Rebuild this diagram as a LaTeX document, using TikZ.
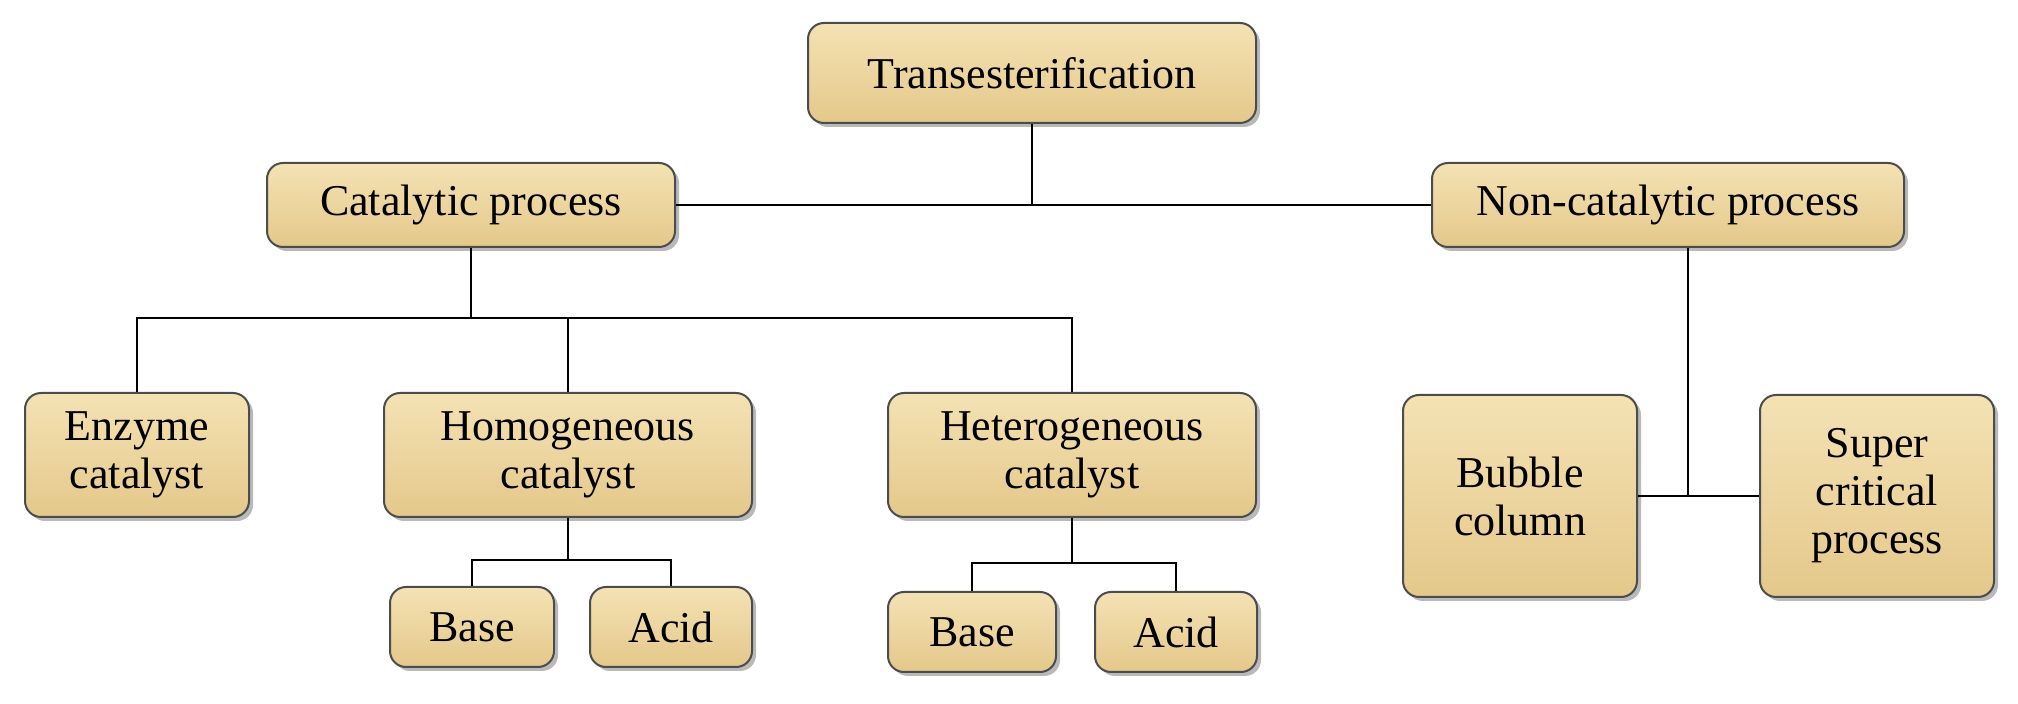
\documentclass[tikz,border=0pt]{standalone}
\usepackage{fontspec}
\setmainfont{Liberation Serif}
\usetikzlibrary{shadows}
\definecolor{parch}{RGB}{228,200,138}
\definecolor{parchlight}{RGB}{244,226,180}
\tikzset{
  box/.style={draw=black!70, line width=1pt, rounded corners=8pt, inner sep=2pt,
    top color=parchlight, bottom color=parch, align=center,
    font=\fontsize{22}{24}\selectfont,
    drop shadow={shadow xshift=2pt, shadow yshift=-2pt, fill=black!55}},
  conn/.style={line width=1.2pt, black}
}
\begin{document}
\begin{tikzpicture}[x=0.5pt,y=-0.5pt]
\useasboundingbox (0,0) rectangle (2018,704);
\node[box, minimum width=224pt, minimum height=50pt] (tr) at (1032,73) {Transesterification};
\node[box, minimum width=204pt, minimum height=42pt] (cat) at (471,205) {Catalytic process};
\node[box, minimum width=236pt, minimum height=42pt] (non) at (1668,205) {Non-catalytic process};
\node[box, minimum width=112pt, minimum height=62pt] (enz) at (137,455) {Enzyme\\catalyst};
\node[box, minimum width=184pt, minimum height=62pt] (hom) at (568,455) {Homogeneous\\catalyst};
\node[box, minimum width=184pt, minimum height=62pt] (het) at (1072,455) {Heterogeneous\\catalyst};
\node[box, minimum width=82pt, minimum height=40pt] (hb) at (472,627) {Base};
\node[box, minimum width=81pt, minimum height=40pt] (ha) at (671,627) {Acid};
\node[box, minimum width=84pt, minimum height=40pt] (eb) at (972,632) {Base};
\node[box, minimum width=81pt, minimum height=40pt] (ea) at (1176,632) {Acid};
\node[box, minimum width=117pt, minimum height=101pt] (bub) at (1520,496) {Bubble\\column};
\node[box, minimum width=117pt, minimum height=101pt] (sup) at (1877,496) {Super\\critical\\process};
\coordinate (j1) at (1032,205);
\coordinate (j2) at (471,318);
\coordinate (j3) at (568,560);
\coordinate (j4) at (1072,563);
\coordinate (j5) at (1688,497);
\draw[conn] (tr) -- (j1);
\draw[conn] (cat) -- (non);
\draw[conn] (cat) -- (j2);
\draw[conn] (enz.north) |- (j2) -| (het.north);
\draw[conn] (j2) -| (hom.north);
\draw[conn] (hom) -- (j3);
\draw[conn] (hb.north) |- (j3) -| (ha.north);
\draw[conn] (het) -- (j4);
\draw[conn] (eb.north) |- (j4) -| (ea.north);
\draw[conn] (non.south -| j5) -- (j5);
\draw[conn] (bub) -- (sup);
\end{tikzpicture}
\end{document}
